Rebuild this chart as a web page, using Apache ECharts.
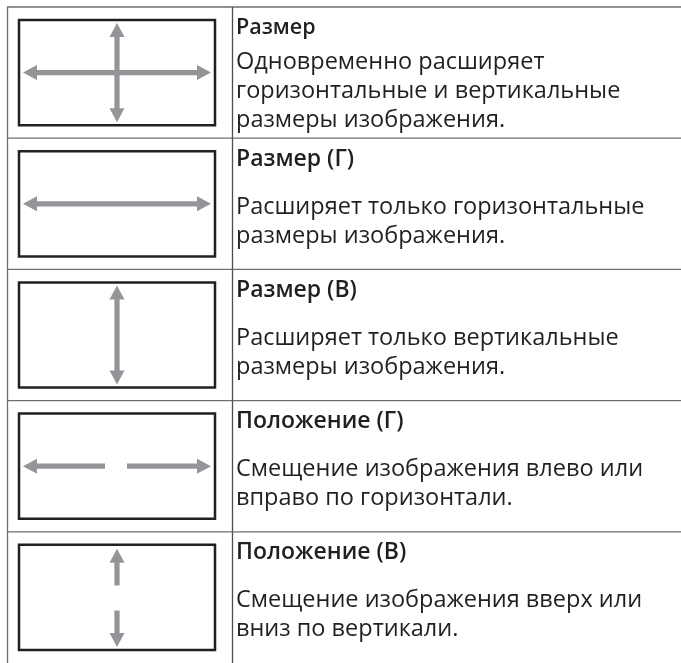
<!DOCTYPE html>
<html>
<head>
<meta charset="utf-8">
<script src="https://cdn.jsdelivr.net/npm/echarts@6/dist/echarts.min.js"></script>
<style>
html,body{margin:0;padding:0;background:#fff;}
#main{width:681px;height:663px;}
</style>
</head>
<body>
<div id="main"></div>
<script>
const titles = ['Размер', 'Размер (Г)', 'Размер (В)', 'Положение (Г)', 'Положение (В)'];
const descriptions = [
  'Одновременно расширяет\nгоризонтальные и вертикальные\nразмеры изображения.',
  'Расширяет только горизонтальные\nразмеры изображения.',
  'Расширяет только вертикальные\nразмеры изображения.',
  'Смещение изображения влево или\nвправо по горизонтали.',
  'Смещение изображения вверх или\nвниз по вертикали.'
];
const iconTypes = ['cross', 'horizontal', 'vertical', 'hsplit', 'vsplit'];
const rowIndex = [0, 1, 2, 3, 4];

const FONT = '"Open Sans", "Noto Sans", sans-serif';
const TEXT_COLOR = '#231f20';
const ARROW_COLOR = '#939598';
const LINE_COLOR = '#6d6e71';
const LINE_H = 29;

function arrowPoly(ax, ay, bx, by, headA, headB) {
  const len = Math.hypot(bx - ax, by - ay);
  const ux = (bx - ax) / len, uy = (by - ay) / len;
  const nx = -uy, ny = ux;
  const w = 2.6, hw = 7.5, hl = 14;
  const p = [];
  if (headA) {
    p.push([ax, ay]);
    p.push([ax + ux * hl + nx * hw, ay + uy * hl + ny * hw]);
    p.push([ax + ux * hl + nx * w, ay + uy * hl + ny * w]);
  } else {
    p.push([ax + nx * w, ay + ny * w]);
  }
  if (headB) {
    p.push([bx - ux * hl + nx * w, by - uy * hl + ny * w]);
    p.push([bx - ux * hl + nx * hw, by - uy * hl + ny * hw]);
    p.push([bx, by]);
    p.push([bx - ux * hl - nx * hw, by - uy * hl - ny * hw]);
    p.push([bx - ux * hl - nx * w, by - uy * hl - ny * w]);
  } else {
    p.push([bx + nx * w, by + ny * w]);
    p.push([bx - nx * w, by - ny * w]);
  }
  if (headA) {
    p.push([ax + ux * hl - nx * w, ay + uy * hl - ny * w]);
    p.push([ax + ux * hl - nx * hw, ay + uy * hl - ny * hw]);
  } else {
    p.push([ax - nx * w, ay - ny * w]);
  }
  return p;
}

function arrowEl(points) {
  return { type: 'polygon', shape: { points: points }, style: { fill: ARROW_COLOR } };
}

function renderItem(params, api) {
  const idx = api.value(0);
  const c = api.coord([0, idx]);
  const bandH = api.size([0, 1])[1];
  const top = c[1] - bandH / 2;
  const bottom = top + bandH;
  const W = params.coordSys.width + params.coordSys.x;
  const children = [];

  // table lines
  children.push({ type: 'line', shape: { x1: 7, y1: top, x2: W, y2: top },
    style: { stroke: LINE_COLOR, lineWidth: 1.3 } });
  children.push({ type: 'line', shape: { x1: 7.5, y1: top, x2: 7.5, y2: bottom },
    style: { stroke: LINE_COLOR, lineWidth: 1.3 } });
  children.push({ type: 'line', shape: { x1: 232.5, y1: top, x2: 232.5, y2: bottom },
    style: { stroke: '#4d4d4f', lineWidth: 1.3 } });

  // icon box
  const bx1 = 19, bx2 = 215;
  const by1 = top + 13, by2 = bottom - 13;
  children.push({ type: 'rect', shape: { x: bx1, y: by1, width: bx2 - bx1, height: by2 - by1 },
    style: { fill: '#fff', stroke: TEXT_COLOR, lineWidth: 2.5 } });

  const cx = (bx1 + bx2) / 2, cy = (by1 + by2) / 2;
  const t = iconTypes[idx];
  if (t === 'cross' || t === 'horizontal') {
    children.push(arrowEl(arrowPoly(bx1 + 4, cy, bx2 - 4, cy, true, true)));
  }
  if (t === 'cross' || t === 'vertical') {
    children.push(arrowEl(arrowPoly(cx, by1 + 3, cx, by2 - 3, true, true)));
  }
  if (t === 'hsplit') {
    children.push(arrowEl(arrowPoly(bx1 + 4, cy, cx - 12, cy, true, false)));
    children.push(arrowEl(arrowPoly(cx + 10, cy, bx2 - 4, cy, false, true)));
  }
  if (t === 'vsplit') {
    children.push(arrowEl(arrowPoly(cx, by1 + 4, cx, cy - 12, true, false)));
    children.push(arrowEl(arrowPoly(cx, cy + 13, cx, by2 - 3, false, true)));
  }

  // texts
  const titleMid = idx === 0 ? top + 21 : top + 21;
  const bodyFirst = idx === 0 ? top + 55 : top + 69;
  const nLines = descriptions[idx].split('\n').length;
  children.push({ type: 'text', style: {
    text: titles[idx], x: 236, y: titleMid, fill: TEXT_COLOR,
    fontFamily: FONT, fontSize: idx === 0 ? 21.5 : 23, fontWeight: 600,
    align: 'left', verticalAlign: 'middle' } });
  children.push({ type: 'text', style: {
    text: descriptions[idx], x: 236, y: bodyFirst + (nLines - 1) * LINE_H / 2,
    fill: TEXT_COLOR, fontFamily: FONT, fontSize: 23.5, fontWeight: 400,
    lineHeight: LINE_H, align: 'left', verticalAlign: 'middle' } });

  return { type: 'group', children: children };
}

const chart = echarts.init(document.getElementById('main'), null, { renderer: 'canvas' });
chart.setOption({
  animation: false,
  backgroundColor: '#fff',
  grid: { left: 0, right: 0, top: 7, height: 660, containLabel: false },
  xAxis: { type: 'value', min: 0, max: 681, show: false },
  yAxis: { type: 'category', data: titles, inverse: true, show: false },
  series: [{
    type: 'custom',
    renderItem: renderItem,
    data: rowIndex.map(function (i) { return [i]; }),
    encode: { y: 0 },
    clip: false
  }]
});
</script>
</body>
</html>
